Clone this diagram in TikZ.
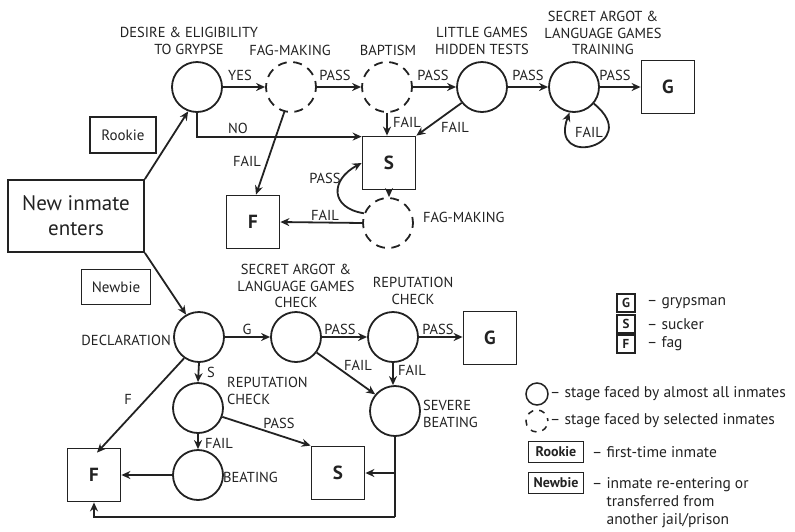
\documentclass[tikz,border=0pt]{standalone}
\usepackage{fontspec}
\setmainfont{PT Sans}
\usetikzlibrary{arrows.meta,calc}
\definecolor{ink}{HTML}{222222}
\begin{document}
\begin{tikzpicture}[x=1pt,y=-1pt,
  stage/.style={circle,draw=ink,line width=1.8pt,minimum size=50pt,inner sep=0pt},
  sel/.style={circle,draw=ink,line width=1.8pt,dash pattern=on 9pt off 6.5pt,dash phase=3pt,minimum size=50pt,inner sep=0pt},
  outcome/.style={draw=ink,line width=1.8pt,minimum width=53pt,minimum height=53pt,inner sep=0pt,font=\fontsize{19}{20}\selectfont\bfseries,text=ink},
  lbl/.style={font=\fontsize{14.5}{16.5}\selectfont,inner sep=0pt,text=ink,align=center},
  arr/.style={draw=ink,line width=1.8pt,-{Stealth[length=9pt,width=8pt]}},
  ln/.style={draw=ink,line width=1.8pt},
  tag/.style={draw=ink,line width=1.8pt,inner sep=0pt,font=\fontsize{15}{17}\selectfont,text=ink},
  legbox/.style={draw=ink,line width=1.5pt,minimum width=18pt,minimum height=18pt,inner sep=0pt,font=\fontsize{13}{14}\selectfont\bfseries,text=ink},
  legtag/.style={draw=ink,line width=1.5pt,minimum width=55pt,minimum height=21pt,inner sep=0pt,font=\fontsize{14}{15}\selectfont\bfseries,text=ink},
  legtxt/.style={font=\fontsize{15.5}{18}\selectfont,inner sep=0pt,text=ink,anchor=west,align=left},
]
\useasboundingbox (0,0) rectangle (795,531);

% ---------- upper (rookie) path
\node[tag,minimum width=136pt,minimum height=72pt,align=center,font=\fontsize{21}{25}\selectfont] (new) at (76,216) {New inmate\\enters};
\node[tag,minimum width=66pt,minimum height=36pt] (rookie) at (123,135) {Rookie};
\node[tag,minimum width=69pt,minimum height=35pt] (newbie) at (116,287) {Newbie};

\node[stage] (desire) at (197,87) {};
\node[sel] (fag1) at (291,87) {};
\node[sel] (bapt) at (387,87) {};
\node[stage] (little) at (482,87) {};
\node[stage] (train) at (574,87) {};
\node[outcome] (G1) at (668,87) {G};
\node[outcome] (S1) at (389,163) {S};
\node[sel] (fag2) at (388,223) {};
\node[outcome] (F1) at (253,222) {F};

\node[lbl] (l-desire) at (189,41) {DESIRE \& ELIGIBILITY\\TO GRYPSE};
\node[lbl] (l-fag1) at (290,50) {FAG-MAKING};
\node[lbl] (l-bapt) at (388,50) {BAPTISM};
\node[lbl] (l-little) at (482,41) {LITTLE GAMES\\HIDDEN TESTS};
\node[lbl] (l-train) at (603,33) {SECRET ARGOT \&\\LANGUAGE GAMES\\TRAINING};
\node[lbl,anchor=west] (l-fag2) at (423,217) {FAG-MAKING};

\draw[arr] (new.north east) -- (desire.250);
\draw[arr] (desire.east) -- (fag1.west);
\draw[arr] (fag1.east) -- (bapt.west);
\draw[arr] (bapt.east) -- (little.west);
\draw[arr] (little.east) -- (train.west);
\draw[arr] (train.east) -- (G1.west);
\draw[arr] (desire.south) |- ($(S1.north west)+(0,1)$);
\draw[arr] (fag1.255) -- ($(F1.north)+(3,0)$);
\draw[arr] (bapt.south) -- (bapt.south|-S1.north);
\draw[arr] (little.218) -- (S1.north east);
\draw[arr] (train.-40) .. controls (645,145) and (548,170) .. (train.-100);
\draw[arr] (S1.south) -- (S1.south|-fag2.north);
\draw[arr] (fag2.west) -- (F1.east);
\draw[arr] (fag2.158) .. controls (330,208) and (330,180) .. (S1.west);

\node[lbl] (y1) at (240,75) {YES};
\node[lbl] (p1) at (335,75) {PASS};
\node[lbl] (p2) at (433,75) {PASS};
\node[lbl] (p3) at (528,75) {PASS};
\node[lbl] (p4) at (615,75) {PASS};
\node[lbl] (n1) at (238,128) {NO};
\node[lbl] (f1) at (247,161) {FAIL};
\node[lbl] (f2) at (407,122) {FAIL};
\node[lbl] (f3) at (455,127) {FAIL};
\node[lbl] (f4) at (589,132) {FAIL};
\node[lbl] (p5) at (325,178) {PASS};
\node[lbl] (f5) at (325,215) {FAIL};

% ---------- lower (newbie) path
\node[stage] (decl) at (199,337) {};
\node[stage] (salg) at (296,337) {};
\node[stage] (rep2) at (393,337) {};
\node[outcome] (G2) at (490,338) {G};
\node[stage] (rep1) at (198,408) {};
\node[stage] (beat) at (198,475) {};
\node[outcome] (F2) at (94,475) {F};
\node[stage] (sev) at (395,411) {};
\node[outcome] (S2) at (338,473) {S};
\coordinate (bot) at (395,517);

\node[lbl,anchor=east] (l-decl) at (171,340) {DECLARATION};
\node[lbl] (l-salg) at (296,286) {SECRET ARGOT \&\\LANGUAGE GAMES\\CHECK};
\node[lbl] (l-rep2) at (413,291) {REPUTATION\\CHECK};
\node[lbl,anchor=west,align=left] (l-rep1) at (227,391) {REPUTATION\\CHECK};
\node[lbl,anchor=west,align=left] (l-sev) at (423,414) {SEVERE\\BEATING};
\node[lbl,anchor=west] (l-beat) at (223,477) {BEATING};

\draw[arr] (new.south east) -- (decl.120);
\draw[arr] (decl.east) -- (salg.west);
\draw[arr] (decl.south) -- (rep1.north);
\draw[arr] (decl.235) -- ($(F2.north)+(3,5)$);
\draw[arr] (rep1.south) -- (beat.north);
\draw[arr] (beat.west) -- (F2.east);
\draw[arr] (rep1.-20) -- (S2.north west);
\draw[arr] (salg.east) -- (rep2.west);
\draw[arr] (rep2.east) -- (rep2.east-|G2.west);
\draw[arr] (salg.-37) -- (sev.140);
\draw[arr] (rep2.south) -- (rep2.south|-sev.north);
\draw[ln] (sev.south) -- (bot);
\draw[arr] (bot) -| (F2.south);
\draw[arr] (sev.south|-S2.east) -- (S2.east);

\node[lbl] (g1) at (247,329) {G};
\node[lbl] (s1) at (211,372) {S};
\node[lbl] (ff) at (128,399) {F};
\node[lbl] (p6) at (340,329) {PASS};
\node[lbl] (p7) at (438,329) {PASS};
\node[lbl] (f6) at (358,365) {FAIL};
\node[lbl] (f7) at (412,370) {FAIL};
\node[lbl] (p8) at (279,423) {PASS};
\node[lbl] (f8) at (219,443) {FAIL};

% ---------- legend
\node[legbox] (lgG) at (626,303) {G};
\node[legbox] (lgS) at (626,324) {S};
\node[legbox] (lgF) at (626,344) {F};
\node[legtxt] (tG) at (647,303) {– grypsman};
\node[legtxt] (tS) at (647,324) {– sucker};
\node[legtxt] (tF) at (647,344) {– fag};
\node[circle,draw=ink,line width=1.5pt,minimum size=22pt,inner sep=0pt] (lgC) at (537,394) {};
\node[circle,draw=ink,line width=1.5pt,dash pattern=on 6pt off 6pt,dash phase=3pt,minimum size=22pt,inner sep=0pt] (lgD) at (537,421) {};
\node[legtxt] (tC) at (550,394) {– stage faced by almost all inmates};
\node[legtxt] (tD) at (550,421) {– stage faced by selected inmates};
\node[legtag] (lgR) at (556,452) {Rookie};
\node[legtag] (lgN) at (556,483) {Newbie};
\node[legtxt] (tR) at (592,452) {– first-time inmate};
\node[legtxt,anchor=north west] (tN) at (592,477) {– inmate re-entering or\\\phantom{– }transferred from\\\phantom{– }another jail/prison};
\end{tikzpicture}
\end{document}
